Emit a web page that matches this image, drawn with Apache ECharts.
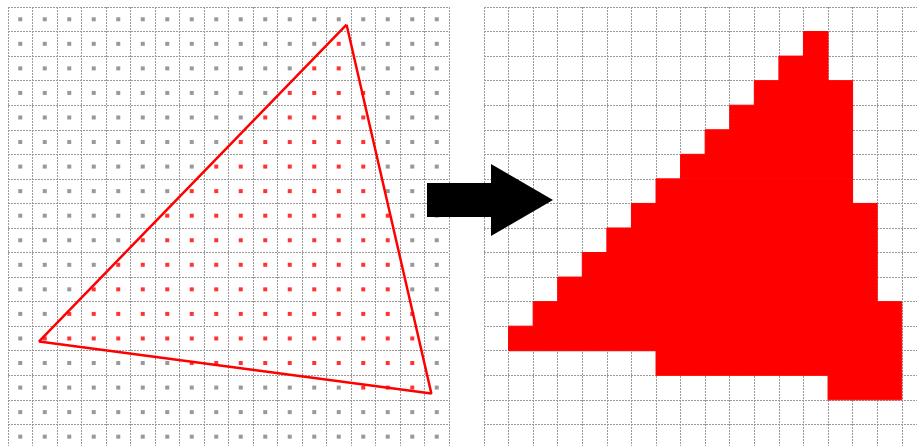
<!DOCTYPE html>
<html>
<head>
<meta charset="utf-8">
<script src="https://cdn.jsdelivr.net/npm/echarts@6/dist/echarts.min.js"></script>
<style>
  html, body { margin: 0; padding: 0; background: #fff; }
  #chart { width: 917px; height: 446px; }
</style>
</head>
<body>
<div id="chart"></div>
<script>
// sampling grid, 18 x 18 pixel cells
const gridCols = [0, 1, 2, 3, 4, 5, 6, 7, 8, 9, 10, 11, 12, 13, 14, 15, 16, 17]
const gridRows = [0, 1, 2, 3, 4, 5, 6, 7, 8, 9, 10, 11, 12, 13, 14, 15, 16, 17]

// triangle corners in cell units (x to the right, y downwards)
const triangle = [[13.82, 0.72], [1.27, 13.62], [17.28, 15.74], [13.82, 0.72]]

// covered cells: for each row, first and last column
const coveredRows = [1, 2, 3, 4, 5, 6, 7, 8, 9, 10, 11, 12, 13, 14, 15]
const coveredFrom = [13, 12, 11, 10, 9, 8, 7, 6, 5, 4, 3, 2, 1, 7, 14]
const coveredTo   = [13, 13, 14, 14, 14, 14, 14, 15, 15, 15, 15, 16, 16, 16, 16]

const isCovered = (c, r) => {
  const i = coveredRows.indexOf(r)
  return i >= 0 && c >= coveredFrom[i] && c <= coveredTo[i]
}

const greyDots = []
const redDots = []
gridRows.forEach(r => {
  gridCols.forEach(c => {
    const p = [c + 0.5, r + 0.5]
    if (isCovered(c, r)) redDots.push(p)
    else greyDots.push(p)
  })
})

const spans = coveredRows.map((r, i) => [r, coveredFrom[i], coveredTo[i]])

const gridLine = { color: '#9a9a9a', width: 1, type: [2, 1] }

// both panels are cut by the page edge, so the visible part of the axis is < 18 cells
const makeAxis = (gridIndex, max, inverse) => ({
  type: 'value',
  gridIndex: gridIndex,
  min: 0,
  max: max,
  interval: 1,
  inverse: inverse,
  axisLine: { show: false },
  axisTick: { show: false },
  axisLabel: { show: false },
  splitLine: { show: true, lineStyle: gridLine }
})

const chart = echarts.init(document.getElementById('chart'))

chart.setOption({
  animation: false,
  backgroundColor: '#fff',
  grid: [
    { left: 8, top: 7, width: 441, height: 439 },
    { left: 484, top: 7, width: 433, height: 439 }
  ],
  xAxis: [makeAxis(0, 18, false), makeAxis(1, 17.62, false)],
  yAxis: [makeAxis(0, 17.88, true), makeAxis(1, 17.88, true)],
  series: [
    {
      type: 'scatter',
      xAxisIndex: 0,
      yAxisIndex: 0,
      symbol: 'rect',
      symbolSize: 4,
      itemStyle: { color: '#808080' },
      data: greyDots
    },
    {
      type: 'scatter',
      xAxisIndex: 0,
      yAxisIndex: 0,
      symbol: 'rect',
      symbolSize: 4,
      itemStyle: { color: '#ff0000' },
      data: redDots
    },
    {
      type: 'line',
      xAxisIndex: 0,
      yAxisIndex: 0,
      symbol: 'none',
      lineStyle: { color: '#ff0000', width: 2.5 },
      data: triangle,
      z: 3
    },
    {
      type: 'custom',
      xAxisIndex: 1,
      yAxisIndex: 1,
      renderItem: function(params, api) {
        const r = api.value(0)
        const p0 = api.coord([api.value(1), r])
        const p1 = api.coord([api.value(2) + 1, r + 1])
        return {
          type: 'rect',
          shape: { x: p0[0], y: p0[1], width: p1[0] - p0[0], height: p1[1] - p0[1] },
          // stroke in the same red closes the seams between neighbouring rows
          style: { fill: '#ff0000', stroke: '#ff0000', lineWidth: 1 }
        }
      },
      data: spans
    }
  ],
  graphic: [
    {
      type: 'polygon',
      z: 100,
      shape: {
        points: [[427, 183], [491, 183], [491, 164], [553, 200], [491, 236], [491, 217], [427, 217]]
      },
      style: { fill: '#000' }
    }
  ]
})
</script>
</body>
</html>
